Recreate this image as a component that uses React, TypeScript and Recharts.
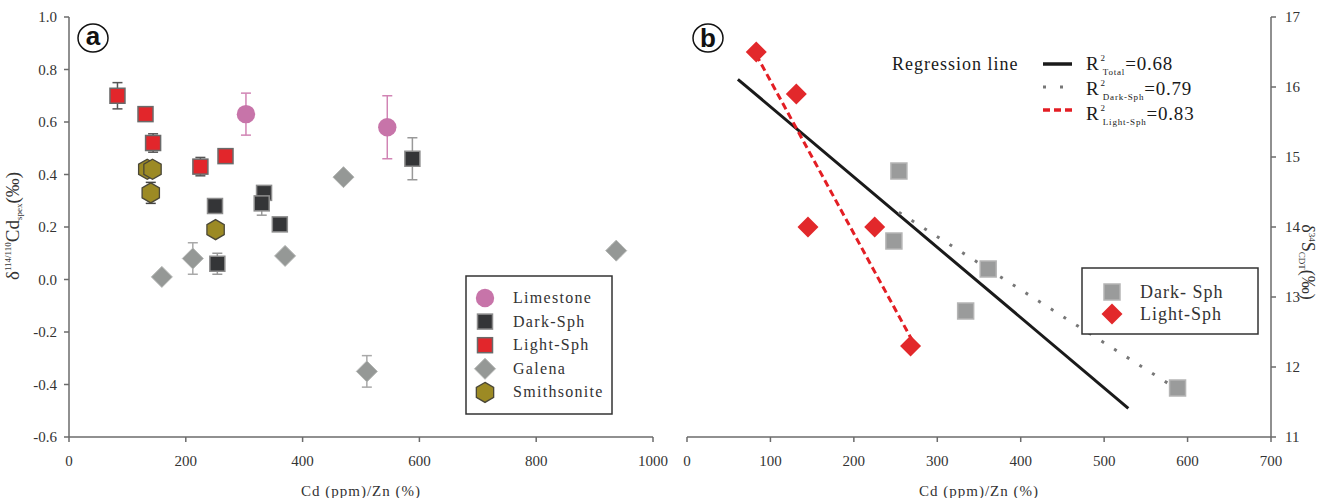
import { ErrorBar, ReferenceLine, Scatter, ScatterChart, XAxis, YAxis } from 'recharts';

const serif = 'Liberation Serif, Times New Roman, Times, serif';
const sans = 'Liberation Sans, Arial, sans-serif';
const axisGray = '#6b6b6b';
const textColor = '#333';

// (a) Cd (ppm)/Zn (%) vs δ114/110Cd
const limestoneCd = [303, 545];
const limestoneDelta = [0.63, 0.58];
const limestoneErr = [0.08, 0.12];

const darkCd = [250, 254, 334, 330, 361, 588];
const darkDelta = [0.28, 0.06, 0.33, 0.29, 0.21, 0.46];
const darkErr = [0, 0.04, 0, 0.045, 0, 0.08];

const lightCd = [83, 131, 144, 225, 268];
const lightDelta = [0.7, 0.63, 0.52, 0.43, 0.47];
const lightErr = [0.05, 0, 0.035, 0.035, 0];

const galenaCd = [159, 212, 370, 470, 510, 937];
const galenaDelta = [0.01, 0.08, 0.09, 0.39, -0.35, 0.11];
const galenaErr = [0, 0.06, 0, 0, 0.06, 0.02];

const smithCd = [134, 143, 140, 251];
const smithDelta = [0.42, 0.42, 0.33, 0.19];
const smithErr = [0, 0, 0.04, 0];

const ticksAx = [0, 200, 400, 600, 800, 1000];
const ticksAy = [-0.6, -0.4, -0.2, 0, 0.2, 0.4, 0.6, 0.8, 1.0];

// (b) Cd (ppm)/Zn (%) vs δ34S
const darkCdB = [254, 248, 361, 334, 588];
const darkS = [14.8, 13.8, 13.4, 12.8, 11.7];
const lightCdB = [83, 131, 145, 225, 268];
const lightS = [16.5, 15.9, 14.0, 14.0, 12.3];

// regression line end points
const totalFitCd = [61, 529];
const totalFitS = [16.11, 11.41];
const darkFitCd = [254, 588];
const darkFitS = [14.21, 11.68];
const lightFitCd = [83, 269];
const lightFitS = [16.46, 12.4];

const ticksBx = [0, 100, 200, 300, 400, 500, 600, 700];
const ticksBy = [11, 12, 13, 14, 15, 16, 17];

const zip = (xs: number[], ys: number[], errs?: number[]) =>
  xs.map((x, i) => ({ x, y: ys[i], err: errs ? errs[i] : 0 }));
const seg = (xs: number[], ys: number[]) => xs.map((x, i) => ({ x, y: ys[i] })) as any;

type S = { cx?: number; cy?: number; fill: string; stroke?: string; size?: number };

const Square = ({ cx = 0, cy = 0, fill, stroke = 'none', size = 15 }: S) => (
  <rect x={cx - size / 2} y={cy - size / 2} width={size} height={size} fill={fill} stroke={stroke} strokeWidth={1.5} />
);
const Diamond = ({ cx = 0, cy = 0, fill, stroke = 'none', size = 10.5 }: S) => (
  <polygon
    points={`${cx},${cy - size} ${cx + size},${cy} ${cx},${cy + size} ${cx - size},${cy}`}
    fill={fill}
    stroke={stroke}
    strokeWidth={1}
  />
);
const Hexagon = ({ cx = 0, cy = 0, fill, stroke = 'none', size = 10 }: S) => {
  const pts = [-90, -30, 30, 90, 150, 210]
    .map((a) => `${cx + size * Math.cos((a * Math.PI) / 180)},${cy + size * Math.sin((a * Math.PI) / 180)}`)
    .join(' ');
  return <polygon points={pts} fill={fill} stroke={stroke} strokeWidth={1.3} />;
};
const Dot = ({ cx = 0, cy = 0, fill, size = 9.2 }: S) => <circle cx={cx} cy={cy} r={size} fill={fill} />;

const styles = {
  limestone: { fill: '#c774a9' },
  dark: { fill: '#343537', stroke: '#8c8c8c' },
  light: { fill: '#e2262b', stroke: '#6a6a6a' },
  galena: { fill: '#959896', stroke: '#b3b5b3' },
  smith: { fill: '#9c8a24', stroke: '#4a4738' },
  darkB: { fill: '#9a9b9b', stroke: '#b5b5b5', size: 16 },
  lightB: { fill: '#e2282b' },
};

const tick = { fill: textColor, fontSize: 15, fontFamily: serif };
const line = { stroke: axisGray, strokeWidth: 1.5 };
const xTitle = { value: 'Cd (ppm)/Zn (%)', position: 'insideBottom' as const, offset: 2, fill: textColor, fontSize: 15, fontFamily: serif, letterSpacing: 1 };

function PanelA() {
  return (
    <ScatterChart width={670} height={498} margin={{ top: 17, right: 17, bottom: 0, left: 0 }} style={{ fontFamily: serif }}>
      <XAxis
        type="number"
        dataKey="x"
        domain={[0, 1000]}
        ticks={ticksAx}
        height={61}
        tick={tick}
        tickLine={line}
        axisLine={line}
        tickSize={5}
        tickMargin={13}
        label={xTitle}
      />
      <XAxis xAxisId="top" orientation="top" type="number" domain={[0, 1000]} height={0} tick={false} tickLine={false} axisLine={line} />
      <YAxis
        type="number"
        dataKey="y"
        domain={[-0.6, 1]}
        ticks={ticksAy}
        width={69}
        tick={tick}
        tickLine={line}
        axisLine={line}
        tickSize={5}
        tickMargin={7}
        tickFormatter={(v: number) => v.toFixed(1)}
      />
      <YAxis yAxisId="right" orientation="right" type="number" domain={[-0.6, 1]} width={0} tick={false} tickLine={false} axisLine={line} />

      <Scatter data={zip(galenaCd, galenaDelta, galenaErr)} isAnimationActive={false} shape={(p: any) => <Diamond cx={p.cx} cy={p.cy} {...styles.galena} />}>
        <ErrorBar dataKey="err" direction="y" width={5} stroke="#a9a9a9" strokeWidth={1.5} isAnimationActive={false} />
      </Scatter>
      <Scatter data={zip(smithCd, smithDelta, smithErr)} isAnimationActive={false} shape={(p: any) => <Hexagon cx={p.cx} cy={p.cy} {...styles.smith} />}>
        <ErrorBar dataKey="err" direction="y" width={5} stroke="#444" strokeWidth={1.5} isAnimationActive={false} />
      </Scatter>
      <Scatter data={zip(darkCd, darkDelta, darkErr)} isAnimationActive={false} shape={(p: any) => <Square cx={p.cx} cy={p.cy} {...styles.dark} />}>
        <ErrorBar dataKey="err" direction="y" width={5} stroke="#999" strokeWidth={1.5} isAnimationActive={false} />
      </Scatter>
      <Scatter data={zip(lightCd, lightDelta, lightErr)} isAnimationActive={false} shape={(p: any) => <Square cx={p.cx} cy={p.cy} {...styles.light} />}>
        <ErrorBar dataKey="err" direction="y" width={5} stroke="#555" strokeWidth={1.5} isAnimationActive={false} />
      </Scatter>
      <Scatter data={zip(limestoneCd, limestoneDelta, limestoneErr)} isAnimationActive={false} shape={(p: any) => <Dot cx={p.cx} cy={p.cy} {...styles.limestone} />}>
        <ErrorBar dataKey="err" direction="y" width={5} stroke="#d184b4" strokeWidth={1.5} isAnimationActive={false} />
      </Scatter>
    </ScatterChart>
  );
}

function PanelB() {
  return (
    <ScatterChart width={655} height={498} margin={{ top: 17, right: 0, bottom: 0, left: 17 }} style={{ fontFamily: serif }}>
      <XAxis
        type="number"
        dataKey="x"
        domain={[0, 700]}
        ticks={ticksBx}
        height={61}
        tick={tick}
        tickLine={line}
        axisLine={line}
        tickSize={5}
        tickMargin={13}
        label={xTitle}
      />
      <XAxis xAxisId="top" orientation="top" type="number" domain={[0, 700]} height={0} tick={false} tickLine={false} axisLine={line} />
      <YAxis
        type="number"
        dataKey="y"
        orientation="right"
        domain={[11, 17]}
        ticks={ticksBy}
        width={54}
        tick={tick}
        tickLine={line}
        axisLine={line}
        tickSize={5}
        tickMargin={9}
      />
      <YAxis yAxisId="left" orientation="left" type="number" domain={[11, 17]} width={0} tick={false} tickLine={false} axisLine={line} />

      <ReferenceLine segment={seg(totalFitCd, totalFitS)} stroke="#1a1a1a" strokeWidth={3} ifOverflow="visible" />
      <ReferenceLine segment={seg(darkFitCd, darkFitS)} stroke="#777" strokeWidth={3} strokeDasharray="3 12" ifOverflow="visible" />
      <ReferenceLine segment={seg(lightFitCd, lightFitS)} stroke="#e31e24" strokeWidth={3} strokeDasharray="7 4" ifOverflow="visible" />

      <Scatter data={zip(darkCdB, darkS)} isAnimationActive={false} shape={(p: any) => <Square cx={p.cx} cy={p.cy} {...styles.darkB} />} />
      <Scatter data={zip(lightCdB, lightS)} isAnimationActive={false} shape={(p: any) => <Diamond cx={p.cx} cy={p.cy} {...styles.lightB} />} />
    </ScatterChart>
  );
}

const legendA = [
  { label: 'Limestone', icon: (y: number) => <Dot cx={485} cy={y} {...styles.limestone} /> },
  { label: 'Dark-Sph', icon: (y: number) => <Square cx={485} cy={y} {...styles.dark} /> },
  { label: 'Light-Sph', icon: (y: number) => <Square cx={485} cy={y} {...styles.light} /> },
  { label: 'Galena', icon: (y: number) => <Diamond cx={485} cy={y} {...styles.galena} /> },
  { label: 'Smithsonite', icon: (y: number) => <Hexagon cx={485} cy={y} {...styles.smith} /> },
];

function R2({ x, y, sub, value }: { x: number; y: number; sub: string; value: string }) {
  return (
    <text x={x} y={y} fontFamily={serif} fontSize={19} fill="#1a1a1a" letterSpacing={0.8}>
      R
      <tspan fontSize={9} dy={-9} dx={1}>2</tspan>
      <tspan fontSize={9} dy={14} dx={-3}>{sub}</tspan>
      <tspan fontSize={19} dy={-5}>{value}</tspan>
    </text>
  );
}

function Overlay() {
  return (
    <svg width={1325} height={498} style={{ position: 'absolute', left: 0, top: 0, pointerEvents: 'none', fontFamily: serif }}>
      {/* panel letters */}
      <ellipse cx={93} cy={38} rx={15} ry={14} fill="#fff" stroke="#111" strokeWidth={1.5} />
      <text x={93} y={45} textAnchor="middle" fontFamily={sans} fontWeight="bold" fontSize={26} fill="#111">a</text>
      <ellipse cx={708} cy={38} rx={15} ry={14} fill="#fff" stroke="#111" strokeWidth={1.5} />
      <text x={708} y={46.5} textAnchor="middle" fontFamily={sans} fontWeight="bold" fontSize={26} fill="#111">b</text>

      {/* y axis titles */}
      <text transform="translate(19,226) rotate(-90)" textAnchor="middle" fontFamily={serif} fontSize={19} fill={textColor}>
        δ<tspan fontSize={9} dy={-8}>114/110</tspan>
        <tspan dy={8}>Cd</tspan>
        <tspan fontSize={9} dy={3}>spex</tspan>
        <tspan dy={-3}>(‰)</tspan>
      </text>
      <text transform="translate(1302,262) rotate(90)" textAnchor="middle" fontFamily={serif} fontSize={18} fill={textColor}>
        δ<tspan fontSize={9} dy={-7}>34</tspan>
        <tspan dy={7}>S</tspan>
        <tspan fontSize={9} dy={3}>CDT</tspan>
        <tspan dy={-3}>(‰)</tspan>
      </text>

      {/* legend (a) */}
      <rect x={466} y={276} width={146} height={138} fill="#fff" stroke="#333" strokeWidth={1.5} />
      {legendA.map((item, i) => {
        const y = 298 + i * 23.6;
        return (
          <g key={item.label}>
            {item.icon(y)}
            <text x={513} y={y + 5} fontFamily={serif} fontSize={16} letterSpacing={1.3} fill={textColor}>{item.label}</text>
          </g>
        );
      })}

      {/* legend (b) markers */}
      <rect x={1082} y={268} width={176} height={66} fill="#fff" stroke="#333" strokeWidth={1.5} />
      <Square cx={1112} cy={292} {...styles.darkB} />
      <text x={1140} y={298} fontFamily={serif} fontSize={18} letterSpacing={1} fill={textColor}>Dark- Sph</text>
      <Diamond cx={1112} cy={314} {...styles.lightB} />
      <text x={1140} y={320} fontFamily={serif} fontSize={18} letterSpacing={1} fill={textColor}>Light-Sph</text>

      {/* legend (b) regression lines */}
      <text x={892} y={70} fontFamily={serif} fontSize={18} letterSpacing={1} fill="#1a1a1a">Regression line</text>
      <line x1={1043} y1={64} x2={1072} y2={64} stroke="#1a1a1a" strokeWidth={3.5} />
      <line x1={1043} y1={87} x2={1072} y2={87} stroke="#777" strokeWidth={3} strokeDasharray="3 14" />
      <line x1={1043} y1={110} x2={1072} y2={110} stroke="#e31e24" strokeWidth={3.5} strokeDasharray="7 4" />
      <R2 x={1086} y={70} sub="Total" value="=0.68" />
      <R2 x={1086} y={95} sub="Dark-Sph" value="=0.79" />
      <R2 x={1086} y={120} sub="Light-Sph" value="=0.83" />
    </svg>
  );
}

export default function App() {
  return (
    <div style={{ position: 'absolute', left: 0, top: 0, width: 1325, height: 498, background: '#fff' }}>
      <div style={{ position: 'absolute', left: 0, top: 0 }}>
        <PanelA />
      </div>
      <div style={{ position: 'absolute', left: 670, top: 0 }}>
        <PanelB />
      </div>
      <Overlay />
    </div>
  );
}
